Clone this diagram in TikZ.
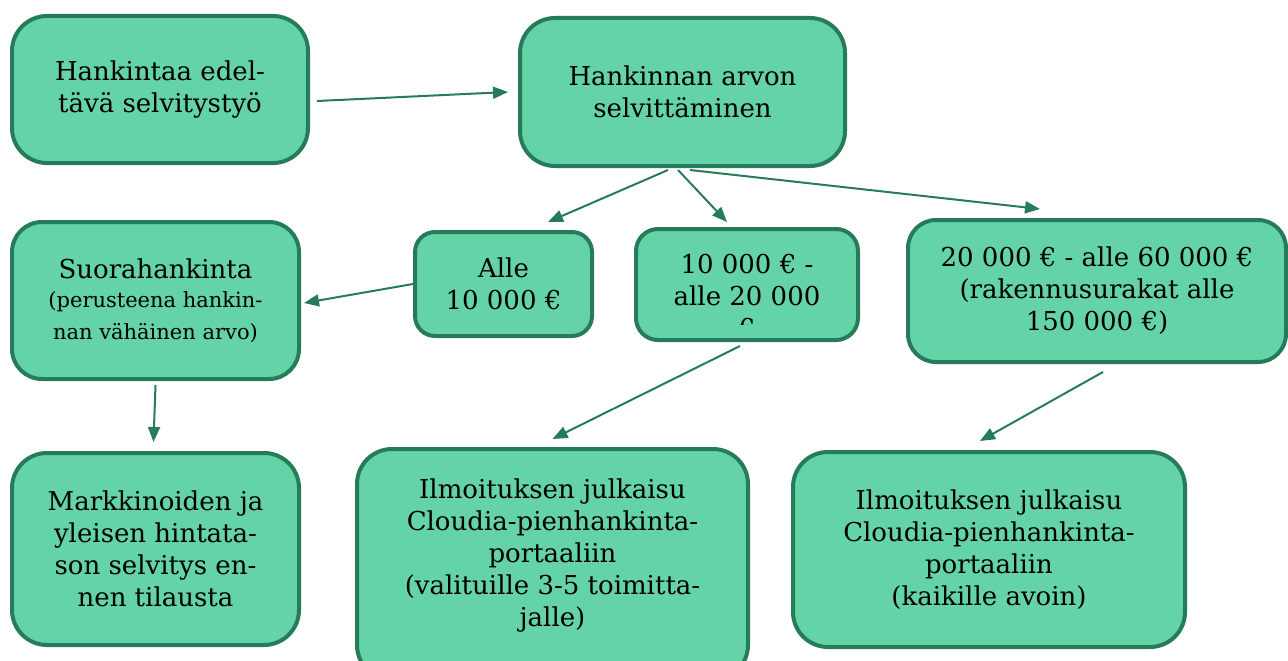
\documentclass[tikz,border=0pt]{standalone}
\usepackage{fontspec}
\setmainfont{DejaVu Serif}
\usetikzlibrary{arrows.meta}
\definecolor{boxfill}{HTML}{64D3A7}
\definecolor{boxline}{HTML}{267B5B}
\tikzset{
  box/.style={draw=boxline, fill=boxfill, line width=4pt, align=center, inner sep=0pt,
    font=\fontsize{26}{32}\selectfont, text=black},
  conn/.style={draw=boxline, line width=2pt, -{Triangle[length=15pt,width=12pt]}},
  txt/.style={align=center, inner sep=0pt, font=\fontsize{26}{32}\selectfont, text=black}
}
\begin{document}
\begin{tikzpicture}[x=1pt,y=-1pt]
\useasboundingbox (0,0) rectangle (1288,661);
\node[box, minimum width=296pt, minimum height=147pt, rounded corners=35pt] (b1) at (160,89.5)
  {Hankintaa edel-\\tävä selvitystyö};
\node[box, minimum width=325pt, minimum height=148pt, rounded corners=35pt] (b2) at (682.5,92)
  {Hankinnan arvon\\selvittäminen};
\node[box, minimum width=287pt, minimum height=157pt, rounded corners=30pt] (b3) at (155.5,300.5)
  {Suorahankinta\\[-3pt]\fontsize{21}{29}\selectfont (perusteena hankin-\\\fontsize{21}{29}\selectfont nan vähäinen arvo)};
\node[box, minimum width=177pt, minimum height=104pt, rounded corners=20pt] (b4) at (503.5,284)
  {Alle\\10 000 €};
\node[box, minimum width=222pt, minimum height=111pt, rounded corners=22pt] (b5) at (747,284.5) {};
\begin{scope}
  \clip (636,240) rectangle (858,324);
  \node[txt, anchor=north] (t5) at (747,254) {10 000 € -\\alle 20 000\\€};
\end{scope}
\node[box, minimum width=378pt, minimum height=142pt, rounded corners=28pt] (b6) at (1097,291)
  {20 000 € - alle 60 000 €\\(rakennusurakat alle\\150 000 €)};
\node[box, minimum width=287pt, minimum height=192pt, rounded corners=35pt] (b7) at (155.5,549)
  {Markkinoiden ja\\yleisen hintata-\\son selvitys en-\\nen tilausta};
\node[box, minimum width=391pt, minimum height=231pt, rounded corners=35pt] (b8) at (552.5,564.5) {};
\node[txt] (t8) at (552.5,556)
  {Ilmoituksen julkaisu\\Cloudia-pienhankinta-\\portaaliin\\(valituille 3-5 toimitta-\\jalle)};
\node[box, minimum width=392pt, minimum height=195pt, rounded corners=35pt] (b9) at (989,549.5)
  {Ilmoituksen julkaisu\\Cloudia-pienhankinta-\\portaaliin\\(kaikille avoin)};

\draw[conn] ([shift={(7,11.5)}]b1.east) -- ([shift={(-10,0)}]b2.west);
\draw[conn] ([shift={(-14.5,2)}]b2.south) -- ([shift={(44.5,-8)}]b4.north);
\draw[conn] ([shift={(-4.5,2)}]b2.south) -- ([shift={(-20,-5)}]b5.north);
\draw[conn] ([shift={(7.5,2)}]b2.south) -- ([shift={(-57,-9)}]b6.north);
\draw[conn] (b4.west) -- ([shift={(3,2.5)}]b3.east);
\draw[conn] ([shift={(0,4)}]b3.south) -- ([shift={(-2,-9)}]b7.north);
\draw[conn] ([shift={(-7,4)}]b5.south) -- ([shift={(0,-8)}]b8.north);
\draw[conn] ([shift={(6,8)}]b6.south) -- ([shift={(-9,-9)}]b9.north);
\end{tikzpicture}
\end{document}
